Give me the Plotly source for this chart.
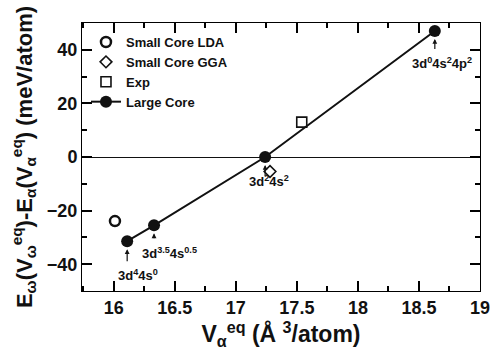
import plotly.graph_objects as go

# Data
lc_x = [16.11, 16.33, 17.24, 18.63]
lc_y = [-31.4, -25.5, 0.0, 47.0]
lda_x = [16.01]
lda_y = [-23.9]
gga_x = [17.28]
gga_y = [-5.4]
exp_x = [17.54]
exp_y = [13.0]

labels = ["3d<sup>4</sup>4s<sup>0</sup>", "3d<sup>3.5</sup>4s<sup>0.5</sup>",
          "3d<sup>2</sup>4s<sup>2</sup>", "3d<sup>0</sup>4s<sup>2</sup>4p<sup>2</sup>"]
label_x = [16.20, 16.46, 17.275, 18.69]
label_y = [-43.9, -35.9, -9.0, 35.0]
arrow_len = [15, 8, 14, 13]

x_range = [15.74, 19]
y_range = [-50, 50]

ink = "#111111"
FONT = "Liberation Sans"

fig = go.Figure()
fig.add_trace(go.Scatter(x=lda_x, y=lda_y, mode="markers", name="<b>Small Core LDA</b>",
                         marker=dict(symbol="circle-open", size=10, color=ink, line=dict(width=2.5, color=ink))))
fig.add_trace(go.Scatter(x=gga_x, y=gga_y, mode="markers", name="<b>Small Core GGA</b>",
                         marker=dict(symbol="diamond-open", size=9, color=ink, line=dict(width=1.6, color=ink))))
fig.add_trace(go.Scatter(x=exp_x, y=exp_y, mode="markers", name="<b>Exp</b>",
                         marker=dict(symbol="square-open", size=10, color=ink, line=dict(width=1.6, color=ink))))
fig.add_trace(go.Scatter(x=lc_x, y=lc_y, mode="lines+markers", name="<b>Large Core</b>",
                         line=dict(color=ink, width=2),
                         marker=dict(symbol="circle", size=12, color=ink)))

for i in range(len(lc_x)):
    fig.add_annotation(x=lc_x[i], y=lc_y[i], text=" ", showarrow=True, ax=0, ay=arrow_len[i] + 8,
                       standoff=8, arrowhead=2, arrowsize=0.8, arrowwidth=1.2, arrowcolor=ink,
                       font=dict(size=2))
    fig.add_annotation(x=label_x[i], y=label_y[i], text="<b>" + labels[i] + "</b>", showarrow=False,
                       font=dict(family=FONT, size=13, color=ink))

fig.update_layout(
    xaxis=dict(range=x_range, dtick=0.5, tick0=16, ticks="inside", ticklen=10, tickwidth=2,
               tickcolor="black", showline=True, linecolor="black", linewidth=1, mirror="ticks",
               showgrid=False, zeroline=False,
               minor=dict(dtick=0.25, ticks="inside", ticklen=5, tickcolor="black"),
               tickfont=dict(family=FONT, size=18, color=ink, weight="bold"),
               title=dict(text="<b>V<sub>α</sub><sup>eq</sup> (Å <sup>3</sup>/atom)</b>",
                          font=dict(family=FONT, size=23, color=ink), standoff=4)),
    yaxis=dict(range=y_range, dtick=20, ticks="inside", ticklen=10, tickwidth=2,
               tickcolor="black", showline=True, linecolor="black", linewidth=1, mirror="ticks",
               showgrid=False, zeroline=True, zerolinecolor=ink, zerolinewidth=1,
               minor=dict(dtick=10, ticks="inside", ticklen=5, tickcolor="black"),
               tickfont=dict(family=FONT, size=18, color=ink, weight="bold"),
               title=dict(text="<b>E<sub>ω</sub>(V<sub>ω</sub><sup>eq</sup>)-E<sub>α</sub>(V<sub>α</sub><sup>eq</sup>) (meV/atom)</b>",
                          font=dict(family=FONT, size=22, color=ink), standoff=8)),
)

fig.update_layout(width=502, height=354, margin=dict(l=82, r=20, t=23, b=63),
                  plot_bgcolor="white", paper_bgcolor="white",
                  legend=dict(x=0.01, y=0.985, xanchor="left", yanchor="top", bgcolor="rgba(0,0,0,0)",
                              font=dict(family=FONT, size=13, color=ink), tracegroupgap=0,
                              itemsizing="trace"))

fig.write_html("out.html")
